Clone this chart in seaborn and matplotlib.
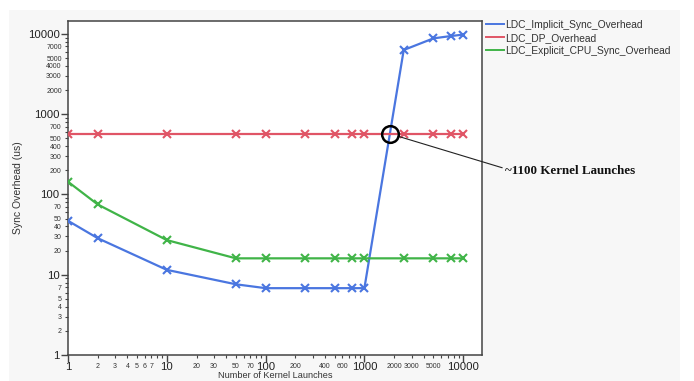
import numpy as np
import pandas as pd
import matplotlib
matplotlib.use("Agg")
import matplotlib.pyplot as plt
from matplotlib.lines import Line2D
from matplotlib.patches import Rectangle
from matplotlib.ticker import FixedLocator, FuncFormatter
import seaborn as sns

# ---------------- data ----------------
launches = [1, 2, 10, 50, 100, 250, 500, 750, 1000, 2500, 5000, 7500, 10000]
implicit_sync = [47, 28.5, 11.5, 7.6, 6.8, 6.8, 6.8, 6.8, 6.8, 6300, 8800, 9400, 9800]
dp_overhead = [570] * 13
explicit_cpu_sync = [144, 75, 27, 16, 16, 16, 16, 16, 16, 16, 16, 16, 16]

series_names = ["LDC_Implicit_Sync_Overhead", "LDC_DP_Overhead", "LDC_Explicit_CPU_Sync_Overhead"]
colors = ["#4a76e0", "#e05566", "#40b448"]

annotation_text = "~1100 Kernel Launches"
x_label = "Number of Kernel Launches"
y_label = "Sync Overhead (us)"

y_major = [1, 10, 100, 1000, 10000]
y_minor_labeled = [2, 3, 4, 5, 7, 20, 30, 40, 50, 70, 200, 300, 400, 500, 700,
                   2000, 3000, 4000, 5000, 7000]
x_major = [1, 10, 100, 1000, 10000]
x_minor_labeled = [2, 3, 4, 5, 6, 7, 20, 30, 50, 70, 200, 400, 600, 2000, 3000, 5000]

df = pd.DataFrame({
    "launches": launches * 3,
    "value": implicit_sync + dp_overhead + explicit_cpu_sync,
    "series": sum([[n] * len(launches) for n in series_names], []),
})

# ---------------- figure ----------------
plt.rcParams["font.family"] = ["Liberation Sans", "DejaVu Sans"]
W, H = 694, 381
fig = plt.figure(figsize=(W / 100, H / 100), dpi=100, facecolor="white")
fig.patches.append(Rectangle((9 / W, 0), (680 - 9) / W, (H - 10) / H,
                             transform=fig.transFigure, facecolor="#f7f7f7",
                             edgecolor="none", zorder=-10))

ax = fig.add_axes([68 / W, (H - 355) / H, (482 - 68) / W, (355 - 20.7) / H])
ax.set_facecolor("white")

for name, col in zip(series_names, colors):
    sub = df[df["series"] == name]
    sns.lineplot(data=sub, x="launches", y="value", ax=ax, color=col,
                 marker="x", markersize=5.5, markeredgewidth=1.5,
                 markeredgecolor=col, linewidth=1.6, legend=False, zorder=3)

ax.set_xscale("log")
ax.set_yscale("log")
ax.set_xlim(1, 15500)
ax.set_ylim(1, 14600)

for sp in ax.spines.values():
    sp.set_color("#444444")
    sp.set_linewidth(1.1)

# ticks
ax.yaxis.set_major_locator(FixedLocator(y_major))
ax.xaxis.set_major_locator(FixedLocator(x_major))
ax.yaxis.set_major_formatter(FuncFormatter(lambda v, p: f"{int(round(v))}"))
ax.xaxis.set_major_formatter(FuncFormatter(lambda v, p: f"{int(round(v))}"))

minor_all = [m * d for d in [1, 10, 100, 1000] for m in range(2, 10)]
ax.yaxis.set_minor_locator(FixedLocator(minor_all))
ax.xaxis.set_minor_locator(FixedLocator(minor_all))


def ymin_fmt(v, p):
    r = int(round(v))
    return str(r) if r in y_minor_labeled else ""


def xmin_fmt(v, p):
    r = int(round(v))
    return str(r) if r in x_minor_labeled else ""


ax.yaxis.set_minor_formatter(FuncFormatter(ymin_fmt))
ax.xaxis.set_minor_formatter(FuncFormatter(xmin_fmt))

ax.tick_params(which="major", length=5, width=1, color="#444444",
               labelsize=8.2, labelcolor="#222222", pad=1)
ax.tick_params(axis="x", which="major", pad=0)
ax.tick_params(which="minor", length=2.5, width=0.8, color="#444444",
               labelsize=5, labelcolor="#333333", pad=2)
ax.tick_params(axis="x", which="minor", pad=3)

ax.set_xlabel(x_label, fontsize=6.6, color="#333333")
ax.set_ylabel(y_label, fontsize=7.5, color="#333333")
ax.xaxis.set_label_coords(0.5, -(371.5 - 355) / (355 - 20.7))
ax.yaxis.set_label_coords(-(68 - 23) / (482 - 68), 0.5)

# annotation: crossing of implicit sync and DP overhead
lx = np.log10(launches)
ly = np.log10(implicit_sync)
lr = np.log10(dp_overhead[0])
i = next(k for k in range(len(ly) - 1) if ly[k] < lr <= ly[k + 1])
frac = (lr - ly[i]) / (ly[i + 1] - ly[i])
cross_x = 10 ** (lx[i] + frac * (lx[i + 1] - lx[i]))
cross_y = dp_overhead[0]

ax.plot([cross_x], [cross_y], marker="o", markersize=12, markerfacecolor="none",
        markeredgecolor="black", markeredgewidth=1.8, zorder=5, clip_on=False)
ax.annotate(annotation_text, xy=(cross_x, cross_y), xycoords="data",
            xytext=(505, H - 171), textcoords="figure pixels",
            ha="left", va="center", fontsize=9.4, fontweight="bold",
            family=["Liberation Serif", "DejaVu Serif"], color="#111111",
            arrowprops=dict(arrowstyle="-", color="#222222", lw=0.8,
                            shrinkA=0, shrinkB=6, relpos=(0, 0.7)),
            annotation_clip=False)

# legend
handles = [Line2D([0], [0], color=c, lw=1.4) for c in colors]
fig.legend(handles, series_names, loc="upper left",
           bbox_to_anchor=(486 / W, 1 - 20 / H), frameon=False, fontsize=7.4,
           handlelength=1.75, handletextpad=0.15, labelspacing=0.28,
           borderpad=0, borderaxespad=0, labelcolor="#333333")

fig.savefig("out.png", dpi=100)
